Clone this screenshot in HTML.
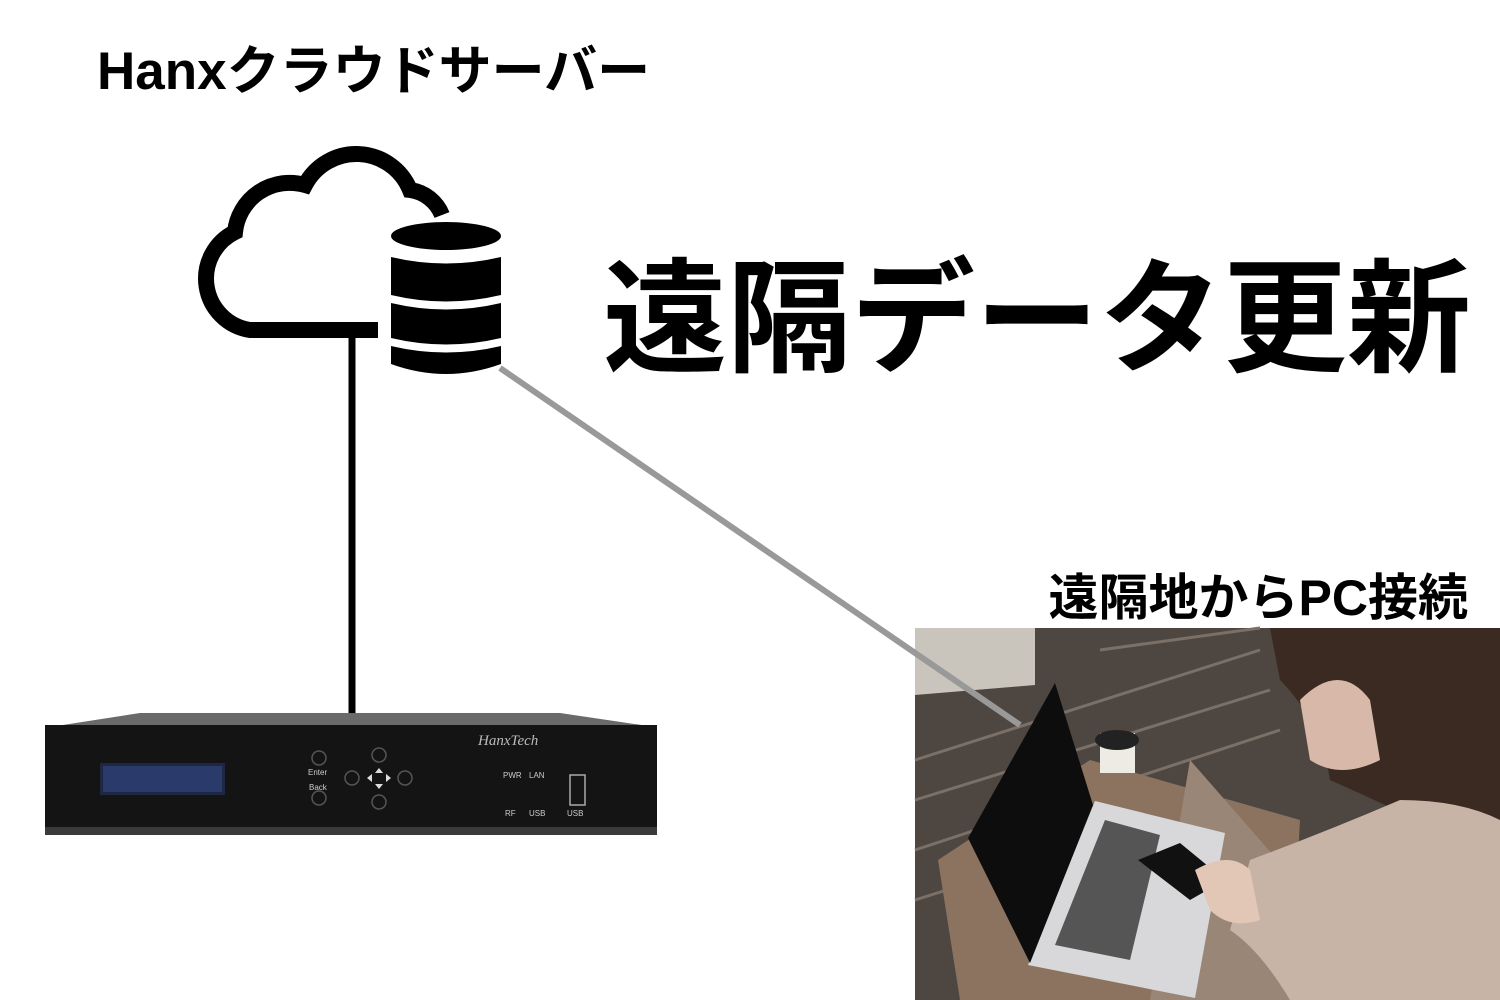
<!DOCTYPE html>
<html><head><meta charset="utf-8"><style>
html,body{margin:0;padding:0;background:#fff;}
body{width:1500px;height:1000px;position:relative;overflow:hidden;}
.t{position:absolute;font-family:"Liberation Sans","Noto Sans CJK JP",sans-serif;font-weight:bold;color:#000;white-space:nowrap;}
</style></head><body>
<div class="t" style="left:97px;top:44px;font-size:53px;line-height:56px;">Hanxクラウドサーバー</div>
<div class="t" style="left:603px;top:258px;font-size:124px;line-height:124px;">遠隔データ更新</div>
<div class="t" style="right:32px;top:571px;font-size:50px;line-height:54px;">遠隔地からPC接続</div>

<svg width="1500" height="1000" style="position:absolute;left:0;top:0" xmlns="http://www.w3.org/2000/svg">
 <path d="M378 330 H250 A52 52 0 0 1 235 232 A55 55 0 0 1 305 185 A58 58 0 0 1 410 190 A40 40 0 0 1 442 215" fill="none" stroke="#000" stroke-width="16"/>
 <ellipse cx="446" cy="236" rx="55" ry="14" fill="#000"/>
 <path d="M391 257 Q446 270 501 257 V295 Q446 308 391 295 Z" fill="#000"/>
 <path d="M391 303 Q446 316 501 303 V338 Q446 351 391 338 Z" fill="#000"/>
 <path d="M391 346 Q446 359 501 346 V364 Q446 384 391 364 Z" fill="#000"/>
 <line x1="352" y1="337" x2="352" y2="718" stroke="#000" stroke-width="7"/>
 <polygon points="50,727 140,713 560,713 655,727" fill="#6a6a6a"/>
 <rect x="45" y="725" width="612" height="108" fill="#141414"/>
 <rect x="45" y="827" width="612" height="8" fill="#3a3a3a"/>
 <rect x="100" y="763" width="125" height="32" fill="#1e2844"/>
 <rect x="103" y="766" width="119" height="26" fill="#2a3a6a"/>
 <g fill="none" stroke="#555" stroke-width="1.5">
  <circle cx="319" cy="758" r="7"/><circle cx="319" cy="798" r="7"/>
  <circle cx="379" cy="755" r="7"/><circle cx="379" cy="802" r="7"/>
  <circle cx="352" cy="778" r="7"/><circle cx="405" cy="778" r="7"/>
 </g>
 <g fill="#ddd"><polygon points="379,768 375,773 383,773"/><polygon points="379,789 375,784 383,784"/><polygon points="367,778 372,774 372,782"/><polygon points="391,778 386,774 386,782"/></g>
 <g font-family="Liberation Sans,sans-serif" font-size="8" fill="#ccc">
  <text x="308" y="775">Enter</text><text x="309" y="790">Back</text>
  <text x="503" y="778">PWR</text><text x="529" y="778">LAN</text>
  <text x="505" y="816">RF</text><text x="529" y="816">USB</text><text x="567" y="816">USB</text>
 </g>
 <rect x="570" y="775" width="15" height="30" fill="none" stroke="#aaa" stroke-width="1.5"/>
 <text x="478" y="745" font-family="Liberation Serif,serif" font-style="italic" font-size="15" fill="#bbb">HanxTech</text>
 <rect x="915" y="628" width="585" height="372" fill="#4e4640"/>
 <polygon points="915,628 1035,628 1035,685 915,695" fill="#c9c4bc"/>
 <g stroke="#7a7068" stroke-width="3">
  <line x1="915" y1="760" x2="1260" y2="650"/><line x1="915" y1="800" x2="1270" y2="690"/>
  <line x1="915" y1="850" x2="1280" y2="730"/><line x1="915" y1="900" x2="1010" y2="870"/>
  <line x1="1100" y1="650" x2="1260" y2="628"/>
 </g>
 <polygon points="1090,760 1300,820 1290,1000 960,1000 938,860" fill="#8b7360"/>
 <polygon points="1190,760 1295,880 1300,1000 1150,1000" fill="#9a8676"/>
 <rect x="1100" y="733" width="35" height="40" fill="#eeeae4"/><ellipse cx="1117" cy="740" rx="22" ry="10" fill="#222"/>
 <polygon points="1095,801 1225,833 1195,998 1028,965" fill="#d8d8da"/>
 <polygon points="1105,820 1160,835 1130,960 1055,945" fill="#555"/>
 <polygon points="1055,683 1093,805 1030,963 968,838" fill="#0e0d0e"/>
 <path d="M1270 628 H1500 V860 Q1420 820 1330 780 Q1320 720 1280 680 Z" fill="#3a2a22"/>
 <path d="M1300 700 Q1340 660 1370 700 L1380 760 Q1340 780 1310 760 Z" fill="#d8b8a8"/>
 <path d="M1250 860 Q1330 830 1400 800 Q1460 800 1500 820 V1000 H1290 Q1260 950 1230 930 Z" fill="#c8b4a6"/>
 <polygon points="1138,860 1180,843 1225,880 1190,900" fill="#111"/>
 <path d="M1195 870 Q1230 850 1250 870 L1260 920 Q1230 930 1210 910 Z" fill="#e2c6b6"/>
 <line x1="500" y1="368" x2="1020" y2="725" stroke="#999" stroke-width="6"/>
</svg>
</body></html>
